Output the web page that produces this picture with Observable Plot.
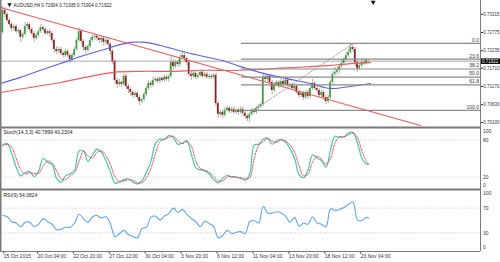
<!DOCTYPE html>
<html><head><meta charset="utf-8">
<script src="https://cdn.jsdelivr.net/npm/d3@7"></script>
<script src="https://cdn.jsdelivr.net/npm/@observablehq/plot@0.6"></script>
<style>
html,body{margin:0;padding:0;background:#fff;}
#chart{position:relative;width:500px;height:262px;overflow:hidden;}
#chart svg{position:absolute;left:0;}
</style></head><body><div id="chart"></div>
<script>
// ---------- DATA ----------
const title = "AUDUSD,H4 0.71904 0.71935 0.71904 0.71922";
const stochTitle = "Stoch(14,3,3) 40.7899 40.2304";
const rsiTitle = "RSI(9) 54.0824";

const open = [
.7277,.7343,.7331,.7313,.7301,.7289,.7295,.7280,.7283,.7263,
.7272,.7295,.7301,.7286,.7274,.7260,.7269,.7280,.7292,.7286,
.7274,.7280,.7274,.7254,.7227,.7221,.7227,.7215,.7209,.7221,
.7209,.7197,.7209,.7227,.7254,.7280,.7251,.7233,.7224,.7236,
.7254,.7263,.7266,.7260,.7254,.7260,.7248,.7254,.7242,.7221,
.7191,.7135,.7123,.7129,.7123,.7147,.7117,.7108,.7099,.7090,
.7096,.7084,.7072,.7078,.7093,.7111,.7126,.7120,.7135,.7138,
.7132,.7141,.7135,.7144,.7138,.7147,.7188,.7176,.7188,.7182,
.7203,.7209,.7200,.7188,.7153,.7147,.7156,.7144,.7150,.7159,
.7147,.7153,.7144,.7147,.7144,.7150,.7066,.7034,.7040,.7031,
.7046,.7052,.7043,.7049,.7040,.7046,.7040,.7049,.7037,.7028,
.7022,.7034,.7046,.7040,.7052,.7057,.7063,.7144,.7138,.7147,
.7129,.7105,.7123,.7129,.7120,.7132,.7123,.7135,.7120,.7123,
.7111,.7117,.7099,.7090,.7096,.7084,.7099,.7087,.7111,.7126,
.7111,.7105,.7090,.7099,.7084,.7072,.7084,.7129,.7153,.7159,
.7165,.7176,.7185,.7197,.7209,.7218,.7233,.7227,.7188,.7170,
.7179,.7188,.7185,.71904];
const close = [
.7343,.7331,.7313,.7301,.7289,.7295,.7280,.7283,.7263,.7272,
.7295,.7301,.7286,.7274,.7260,.7269,.7280,.7292,.7286,.7274,
.7280,.7274,.7254,.7227,.7221,.7227,.7215,.7209,.7221,.7209,
.7197,.7209,.7227,.7254,.7280,.7251,.7233,.7224,.7236,.7254,
.7263,.7266,.7260,.7254,.7260,.7248,.7254,.7242,.7221,.7191,
.7135,.7123,.7129,.7123,.7147,.7117,.7108,.7099,.7090,.7096,
.7084,.7072,.7078,.7093,.7111,.7126,.7120,.7135,.7138,.7132,
.7141,.7135,.7144,.7138,.7147,.7188,.7176,.7188,.7182,.7203,
.7209,.7200,.7188,.7153,.7147,.7156,.7144,.7150,.7159,.7147,
.7153,.7144,.7147,.7144,.7150,.7066,.7034,.7040,.7031,.7046,
.7052,.7043,.7049,.7040,.7046,.7040,.7049,.7037,.7028,.7022,
.7034,.7046,.7040,.7052,.7057,.7063,.7144,.7138,.7147,.7129,
.7105,.7123,.7129,.7120,.7132,.7123,.7135,.7120,.7123,.7111,
.7117,.7099,.7090,.7096,.7084,.7099,.7087,.7111,.7126,.7111,
.7105,.7090,.7099,.7084,.7072,.7084,.7129,.7153,.7159,.7165,
.7176,.7185,.7197,.7209,.7218,.7233,.7227,.7188,.7170,.7179,
.7188,.7185,.7194,.71922];
const high = [
.7355,.7352,.7337,.7319,.7307,.7301,.7301,.7289,.7286,.7277,
.7307,.7307,.7307,.7292,.7280,.7274,.7286,.7301,.7298,.7292,
.7286,.7286,.7280,.7260,.7236,.7233,.7233,.7221,.7227,.7227,
.7215,.7215,.7233,.7260,.7292,.7286,.7257,.7239,.7242,.7263,
.7269,.7272,.7272,.7266,.7266,.7266,.7260,.7260,.7248,.7227,
.7197,.7141,.7138,.7132,.7156,.7153,.7123,.7114,.7105,.7102,
.7102,.7090,.7081,.7099,.7117,.7135,.7132,.7144,.7144,.7144,
.7147,.7147,.7150,.7150,.7153,.7209,.7197,.7194,.7194,.7212,
.7221,.7215,.7206,.7194,.7162,.7165,.7162,.7156,.7165,.7165,
.7159,.7159,.7153,.7153,.7156,.7156,.7072,.7046,.7046,.7055,
.7057,.7057,.7055,.7055,.7052,.7052,.7057,.7055,.7043,.7034,
.7040,.7052,.7052,.7057,.7063,.7069,.7156,.7150,.7153,.7153,
.7135,.7129,.7135,.7135,.7141,.7138,.7144,.7141,.7126,.7126,
.7123,.7123,.7105,.7102,.7102,.7105,.7105,.7117,.7138,.7132,
.7117,.7111,.7105,.7105,.7090,.7090,.7135,.7162,.7173,.7176,
.7182,.7194,.7203,.7218,.7227,.7245,.7242,.7233,.7194,.7185,
.7197,.7197,.7200,.71935];
const low = [
.7272,.7322,.7307,.7295,.7280,.7283,.7274,.7274,.7248,.7257,
.7266,.7289,.7280,.7269,.7248,.7254,.7263,.7274,.7280,.7269,
.7269,.7263,.7245,.7215,.7212,.7215,.7209,.7203,.7203,.7203,
.7185,.7191,.7203,.7221,.7248,.7242,.7221,.7215,.7218,.7230,
.7248,.7254,.7251,.7245,.7245,.7236,.7239,.7233,.7212,.7182,
.7123,.7111,.7117,.7114,.7117,.7108,.7096,.7087,.7081,.7084,
.7075,.7060,.7066,.7072,.7087,.7105,.7111,.7114,.7129,.7126,
.7126,.7129,.7129,.7132,.7129,.7141,.7165,.7170,.7173,.7176,
.7197,.7191,.7179,.7144,.7135,.7141,.7138,.7138,.7144,.7141,
.7141,.7138,.7138,.7138,.7138,.7057,.7022,.7028,.7022,.7025,
.7040,.7037,.7037,.7034,.7034,.7031,.7034,.7028,.7019,.7013,
.7010,.7028,.7034,.7034,.7046,.7052,.7057,.7129,.7132,.7123,
.7093,.7099,.7117,.7111,.7114,.7117,.7117,.7111,.7114,.7105,
.7105,.7093,.7081,.7084,.7075,.7078,.7078,.7081,.7105,.7105,
.7096,.7084,.7084,.7075,.7063,.7066,.7078,.7123,.7147,.7150,
.7156,.7170,.7179,.7191,.7203,.7212,.7218,.7176,.7159,.7165,
.7173,.7179,.7182,.71904];

// moving averages (read at sample bars)
const maBlueBars   = [-1, 7.9, 16.8, 25.7, 34.6, 43.5, 56.9, 63.6, 70.2, 83.6, 97.9, 105.9, 116.1, 125.9, 137.1, 146, 154.9, 163.8];
const maBluePrices = [.7126,.7144,.7165,.7185,.7206,.7224,.7248,.7248,.7239,.7215,.7194,.7176,.7156,.7141,.7126,.7111,.7117,.7126];
const maRedBars    = [-1, 12.3, 25.7, 39.1, 49.3, 61.3, 74.7, 88.1, 105.9, 128.1, 144.6, 154.9, 163.8];
const maRedPrices  = [.7099,.7114,.7129,.7147,.7159,.7162,.7162,.7165,.7165,.7173,.7179,.7185,.7188];

// drawing objects
const trendBars = [-1, 186.1];
const trendPrices = [0.7352, 0.7001];
const fibLevels = ["0.0", "23.6", "38.2", "50.0", "61.8", "100.0"];
const fibPrices = [0.7245, 0.7198, 0.7169, 0.7145, 0.7122, 0.7046];
const fibStartBar = 106.3;
const fibTrendBars = [111.7, 156.2];
const fibTrendPrices = [0.7046, 0.7245];
const bid = 0.71922;
const shiftBar = 165;

// axes
const priceTickLabels = ["0.73315", "0.72775", "0.72235", "0.71710", "0.71170", "0.70630", "0.70100"];
const priceTickValues = priceTickLabels.map(Number);
const dateLabels = ["15 Oct 2015", "20 Oct 04:00", "22 Oct 20:00", "27 Oct 12:00", "30 Oct 04:00", "3 Nov 20:00", "6 Nov 12:00", "11 Nov 04:00", "13 Nov 20:00", "18 Nov 12:00", "23 Nov 04:00"];
const dateBars = [0, 15, 31, 47, 63, 79, 95, 111, 127, 143, 159];

// indicators (bars 0,2,4,...,162 and 163)
const stochK = [72,74,58,36,22,27,29,21,30,50, 44,40,18,12,22,25,31,62,62,45, 56,65,60,46,28,10,12,16,17,12, 9,14,28,45,74,81,81,87,84,73, 75,79,57,35,32,30,25,16,11,18, 23,20,20,18,15,25,72,73,81,83, 73,78,81,76,66,50,24,19,32,56, 51,46,36,64,86,84,85,91,92,75, 50,41, 40.79];
const stochD = [70,73,68,50,32,25,27,26,26,38, 46,43,30,17,16,22,27,45,62,54, 51,60,62,54,40,20,13,14,16,15, 11,11,19,34,58,77,81,84,86,79, 74,77,70,46,34,31,28,21,14,14, 20,21,20,19,17,19,50,71,77,82, 78,76,80,78,72,60,38,22,25,44, 53,49,41,50,75,85,85,88,91,84, 62,45, 40.23];
const rsi = [58,56,48,46,40,47,47,40,44,53, 48,44,35,36,39,39,46,60,53,47, 56,58,54,56,44,24,29,34,27,24, 22,37,39,55,57,51,57,61,70,63, 68,60,53,48,40,49,45,40,22,26, 34,29,31,32,29,48,50,46,73,62, 62,64,62,57,47,55,41,46,44,56, 46,44,40,69,66,68,71,76,80,51, 50,55, 54.08];
const stochLevels = [80, 20];
const rsiLevels = [70, 30];

// ---------- CHART ----------
const indBars = d3.range(0, 163, 2).concat([163]);
const bars = close.map((c, i) => ({i, open: open[i], high: high[i], low: low[i], close: c}));
const XDOM = [-1, 212.8];
const xEdge = XDOM[1];
const FONT = '"Liberation Sans", Arial, sans-serif';
const style = {fontFamily: FONT, fontSize: "5px", background: "transparent", color: "#222"};
const frameC = "#7a7a7a";
const base = {width: 500, marginLeft: 0, marginRight: 20, x: {domain: XDOM, axis: null}, style};

const PY = [0.6995, 0.73726];
const price = Plot.plot({
  ...base, height: 127, marginTop: 0, marginBottom: 0,
  y: {domain: PY, axis: null},
  marks: [
    Plot.ruleY([bid], {stroke: "#a8a8a8", strokeWidth: 1}),
    Plot.ruleX(bars, {x: "i", y1: "low", y2: "high", stroke: "#8c8c8c", strokeWidth: 0.7}),
    Plot.rect(bars, {x1: d => d.i - 0.37, x2: d => d.i + 0.37, y1: "open", y2: "close",
      fill: d => d.close >= d.open ? "#36a336" : "#951c1c"}),
    Plot.line(maRedPrices, {x: (d, i) => maRedBars[i], y: d => d, stroke: "#f25a5a", strokeWidth: 1.1, curve: "catmull-rom"}),
    Plot.line(maBluePrices, {x: (d, i) => maBlueBars[i], y: d => d, stroke: "#5d5df0", strokeWidth: 1.1, curve: "catmull-rom"}),
    Plot.line(trendPrices, {x: (d, i) => trendBars[i], y: d => d, stroke: "#f25a5a", strokeWidth: 1.1}),
    Plot.ruleY(fibPrices, {x1: () => fibStartBar, x2: () => xEdge, stroke: "#8a8a8a", strokeWidth: 1.2}),
    Plot.text(fibLevels, {x: () => xEdge, y: (d, i) => fibPrices[i], text: d => d, textAnchor: "end", dx: -1.5, dy: -3.3, fontSize: 5, fill: "#333"}),
    Plot.line(fibTrendPrices, {x: (d, i) => fibTrendBars[i], y: d => d, stroke: "#999", strokeWidth: 0.9, strokeDasharray: "1.5,1.5"}),
    Plot.axisY({anchor: "right", ticks: priceTickValues, tickFormat: d => priceTickLabels[priceTickValues.indexOf(d)],
      tickSize: 2, tickPadding: 0.8, fontSize: 4.5, color: "#333"}),
    Plot.ruleY([bid], {x1: () => xEdge, x2: () => xEdge + 10, stroke: "#000", strokeWidth: 5.5}),
    Plot.text([bid], {x: () => xEdge, y: d => d, text: () => "0.71922", textAnchor: "start", dx: 1.5, fontSize: 4.5, fill: "#fff"}),
    Plot.dot([0], {frameAnchor: "top-left", dx: 9, dy: 4, symbol: "triangle", r: 1.6, rotate: 180, fill: "#111"}),
    Plot.text([title], {frameAnchor: "top-left", text: d => d, dx: 13, dy: 5, textAnchor: "start", lineAnchor: "middle", fontSize: 4.6, fill: "#222"}),
    Plot.dot([shiftBar], {x: d => d, frameAnchor: "top", dy: 1.6, symbol: "triangle", r: 1.8, rotate: 180, fill: "#111"}),
    Plot.ruleY([PY[0]], {stroke: frameC, strokeWidth: 2}),
    Plot.ruleX([XDOM[0]], {stroke: frameC, strokeWidth: 2}),
    Plot.ruleX([xEdge], {stroke: frameC, strokeWidth: 1})
  ]
});

function panelLabels(levels) {
  return [
    Plot.text(levels, {x: () => xEdge, y: d => d, text: d => String(d), textAnchor: "start", dx: 2.5, fontSize: 5, fill: "#333"}),
    Plot.text(["100"], {x: () => xEdge, y: () => 100, text: d => d, textAnchor: "start", dx: 2.5, dy: 3.5, fontSize: 5, fill: "#333"}),
    Plot.text(["0"], {x: () => xEdge, y: () => 0, text: d => d, textAnchor: "start", dx: 2.5, dy: -4.5, fontSize: 5, fill: "#333"})
  ];
}
function frameMarks() {
  return [
    Plot.ruleY([0, 100], {stroke: frameC, strokeWidth: 2}),
    Plot.ruleX([XDOM[0]], {stroke: frameC, strokeWidth: 2}),
    Plot.ruleX([xEdge], {stroke: frameC, strokeWidth: 1})
  ];
}

const stoch = Plot.plot({
  ...base, height: 62, marginTop: 0, marginBottom: 0,
  y: {domain: [0, 100], axis: null},
  marks: [
    Plot.ruleY(stochLevels, {stroke: "#bdbdbd", strokeDasharray: "1,1.5", strokeWidth: 0.8}),
    Plot.line(stochK, {x: (d, i) => indBars[i], y: d => d, stroke: "#45c6b2", strokeWidth: 1.2, curve: "catmull-rom"}),
    Plot.line(stochD, {x: (d, i) => indBars[i], y: d => d, stroke: "#e84848", strokeWidth: 1, strokeDasharray: "1.4,1.4", curve: "catmull-rom"}),
    ...panelLabels(stochLevels),
    Plot.text([stochTitle], {frameAnchor: "top-left", text: d => d, dx: 3, dy: 4.5, textAnchor: "start", lineAnchor: "middle", fontSize: 5, fill: "#222"}),
    ...frameMarks()
  ]
});

const rsiPlot = Plot.plot({
  ...base, height: 73, marginTop: 0, marginBottom: 11,
  y: {domain: [0, 100], axis: null},
  marks: [
    Plot.ruleY(rsiLevels, {stroke: "#bdbdbd", strokeDasharray: "1,1.5", strokeWidth: 0.8}),
    Plot.line(rsi, {x: (d, i) => indBars[i], y: d => d, stroke: "#5fa5f2", strokeWidth: 1.1, curve: "catmull-rom"}),
    ...panelLabels(rsiLevels),
    Plot.text([rsiTitle], {frameAnchor: "top-left", text: d => d, dx: 3, dy: 5.5, textAnchor: "start", lineAnchor: "middle", fontSize: 5, fill: "#222"}),
    Plot.axisX(dateBars, {anchor: "bottom", tickFormat: d => dateLabels[dateBars.indexOf(d)], textAnchor: "start", dx: 1,
      tickSize: 2.5, tickPadding: 0, fontSize: 5, color: "#333"}),
    Plot.ruleY([0], {stroke: frameC, strokeWidth: 1}),
    Plot.ruleY([100], {stroke: frameC, strokeWidth: 2}),
    Plot.ruleX([XDOM[0]], {stroke: frameC, strokeWidth: 2}),
    Plot.ruleX([xEdge], {stroke: frameC, strokeWidth: 1})
  ]
});

const root = document.getElementById("chart");
[[price, 0], [stoch, 127], [rsiPlot, 189]].forEach(([svg, top]) => {
  svg.style.position = "absolute";
  svg.style.top = top + "px";
  svg.style.left = "0px";
  root.appendChild(svg);
});
</script></body></html>
